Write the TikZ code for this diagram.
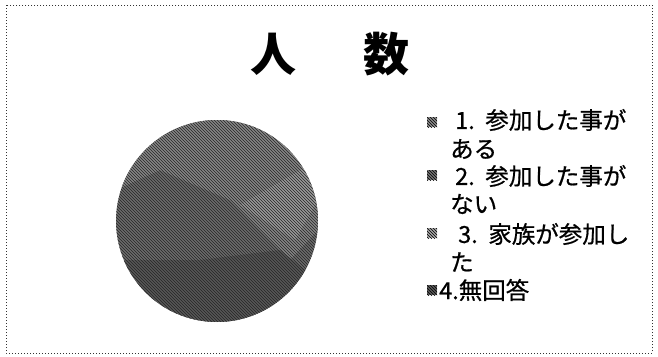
\documentclass[tikz,border=0pt]{standalone}
\usepackage{fontspec}
\newfontfamily\cjk{Noto Sans CJK JP}
\newfontfamily\cjkleg[FakeBold=0.7]{Noto Sans CJK JP}
\usetikzlibrary{patterns}
\begin{document}
\begin{tikzpicture}[x=1pt,y=-1pt,
  frame/.style={draw=black!80,dotted,line width=1pt},
  titletxt/.style={font=\cjk\bfseries\fontsize{46}{50}\selectfont,inner sep=0pt},
  legtxt/.style={font=\cjkleg\fontsize{23.5}{28}\selectfont,anchor=west,inner sep=0pt},
  legbox/.style={minimum size=10pt,inner sep=0pt,draw=none}]
\useasboundingbox (0,0) rectangle (658,356);
\fill[white] (0,0) rectangle (658,356);
\draw[frame] (6,5) rectangle (652,353);
% title
\node[titletxt] (t1) at (273,54) {人};
\node[titletxt] (t2) at (386,54) {数};
% pie (scanned halftone look)
\begin{scope}
  \clip (217,221) circle (101);
  \fill[black!58] (116,120) rectangle (318,322);
  \fill[black!48] (116,150) -- (200,120) -- (318,120) -- (318,230) -- (290,260) -- (230,200) -- (160,170) -- (116,190) -- cycle;
  \fill[black!40] (240,205) -- (318,160) -- (318,200) -- (295,240) -- cycle;
  \fill[black!66] (116,260) -- (200,260) -- (280,250) -- (318,280) -- (318,322) -- (116,322) -- cycle;
  \fill[pattern=north west lines,pattern color=black!85] (116,120) rectangle (318,322);
\end{scope}
\node[circle,minimum size=202pt,inner sep=0pt] (pie) at (217,221) {};
% legend
\node[legbox,fill=black!45,postaction={pattern=north west lines}] (s1) at (432,122) {};
\node[legbox,fill=black!55,postaction={pattern=north west lines}] (s2) at (432,175) {};
\node[legbox,fill=black!35,postaction={pattern=north west lines}] (s3) at (432,233) {};
\node[legbox,fill=black!65,postaction={pattern=north west lines}] (s4) at (432,290) {};
\node[legtxt] (l1a) at (455,120) {1.\hspace{0.45em}参加した事が};
\node[legtxt] (l1b) at (450,149) {ある};
\node[legtxt] (l2a) at (455,176) {2.\hspace{0.45em}参加した事が};
\node[legtxt] (l2b) at (450,204) {ない};
\node[legtxt] (l3a) at (458,234) {3.\hspace{0.45em}家族が参加し};
\node[legtxt] (l3b) at (450,262) {た};
\node[legtxt] (l4) at (439,290) {4.無回答};
\end{tikzpicture}
\end{document}
